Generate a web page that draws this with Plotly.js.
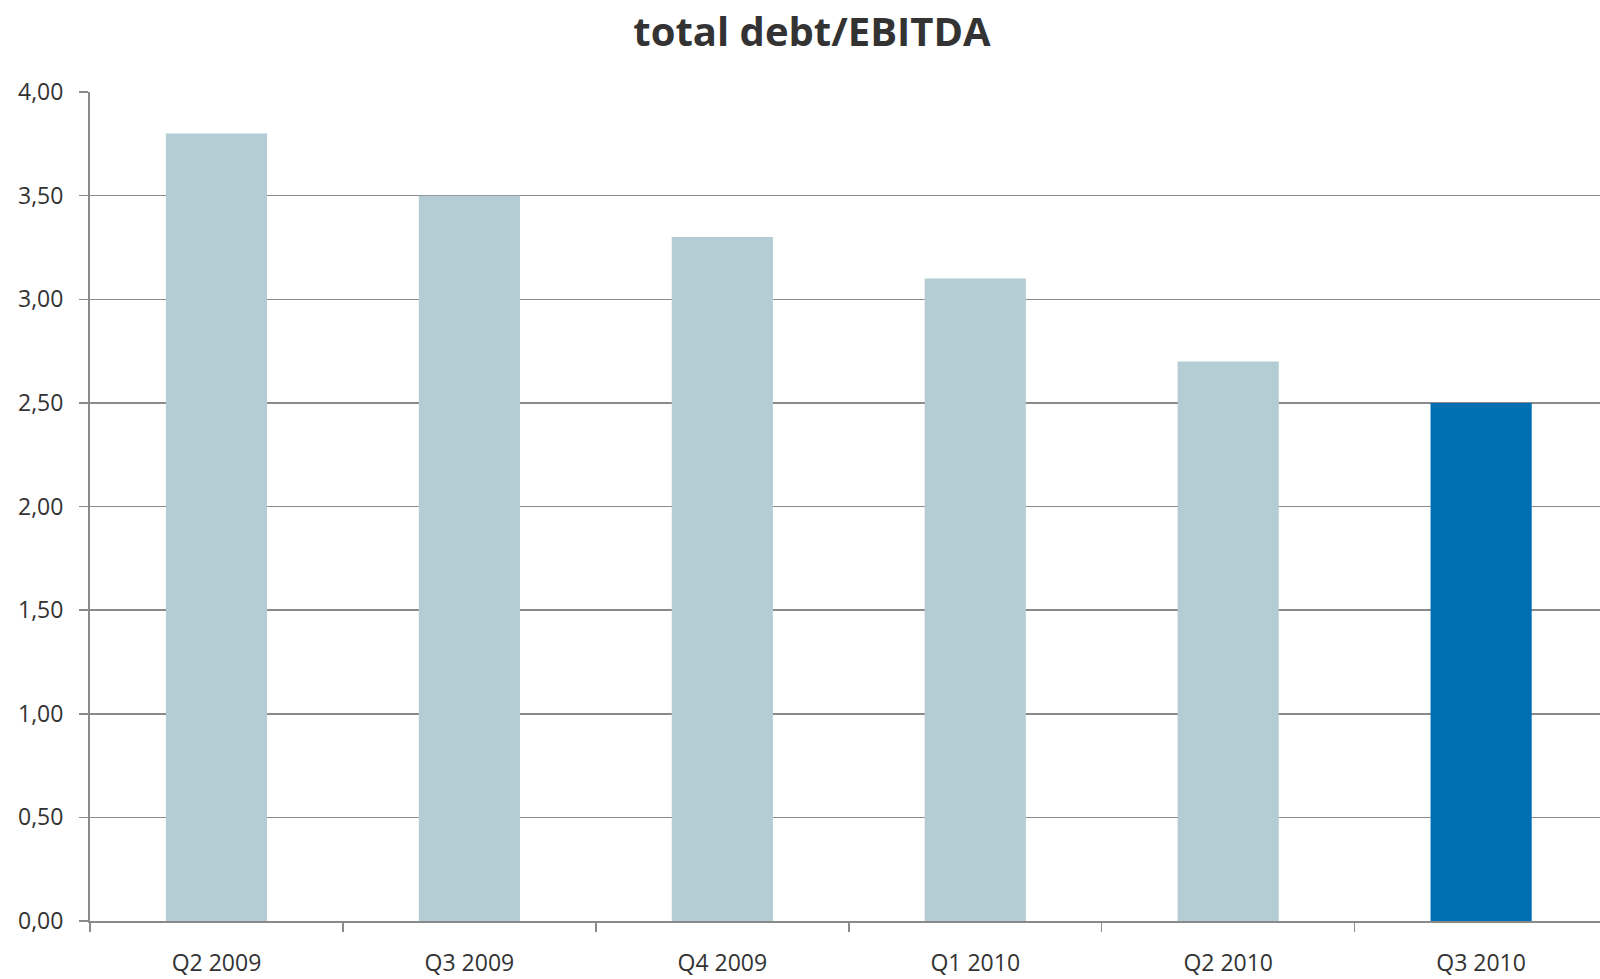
<!DOCTYPE html>
<html>
<head>
<meta charset="utf-8">
<script src="https://cdn.plot.ly/plotly-3.0.1.min.js"></script>
<style>html,body{margin:0;padding:0;background:#fff;}#chart{width:1600px;height:979px;}</style>
</head>
<body>
<div id="chart"></div>
<script>
const categories = ["Q2 2009", "Q3 2009", "Q4 2009", "Q1 2010", "Q2 2010", "Q3 2010"];
const values = [3.80, 3.50, 3.30, 3.10, 2.70, 2.50];
const barColors = ["#b4cdd4", "#b4cdd4", "#b4cdd4", "#b4cdd4", "#b4cdd4", "#0070b3"];
const yTicks = [0, 0.5, 1, 1.5, 2, 2.5, 3, 3.5, 4];

const trace = {
  type: "bar",
  x: categories,
  y: values,
  marker: {color: barColors, line: {width: 0}},
  width: 0.4,
  hoverinfo: "x+y"
};

const layout = {
  width: 1600,
  height: 979,
  separators: ",.",
  paper_bgcolor: "#ffffff",
  plot_bgcolor: "#ffffff",
  margin: {l: 90, r: 0, t: 92, b: 58},
  showlegend: false,
  title: {
    text: "<b>total debt/EBITDA</b>",
    font: {family: "Open Sans", size: 40, color: "#333333"},
    x: 0.5075, xanchor: "center",
    y: 0.967, yanchor: "middle", yref: "container"
  },
  xaxis: {
    type: "category",
    range: [-0.5, 5.47],
    showline: true,
    linecolor: "#8a8a8a",
    linewidth: 2,
    ticks: "outside",
    tickson: "boundaries",
    ticklen: 9,
    tickwidth: 1.5,
    tickcolor: "#8a8a8a",
    showgrid: false,
    zeroline: false,
    tickfont: {family: "Open Sans", size: 23, color: "#333333"},
    ticklabelstandoff: 20
  },
  yaxis: {
    range: [0, 4],
    tickvals: yTicks,
    tickformat: ".2f",
    showline: true,
    linecolor: "#8a8a8a",
    linewidth: 2,
    ticks: "outside",
    ticklen: 9,
    tickwidth: 1.5,
    tickcolor: "#8a8a8a",
    showgrid: true,
    gridcolor: "#8a8a8a",
    gridwidth: 1.5,
    zeroline: false,
    tickfont: {family: "Open Sans", size: 23, color: "#333333"},
    ticklabelstandoff: 11
  },
  bargap: 0.6
};

Plotly.newPlot("chart", [trace], layout, {displayModeBar: false, staticPlot: true});
</script>
</body>
</html>
